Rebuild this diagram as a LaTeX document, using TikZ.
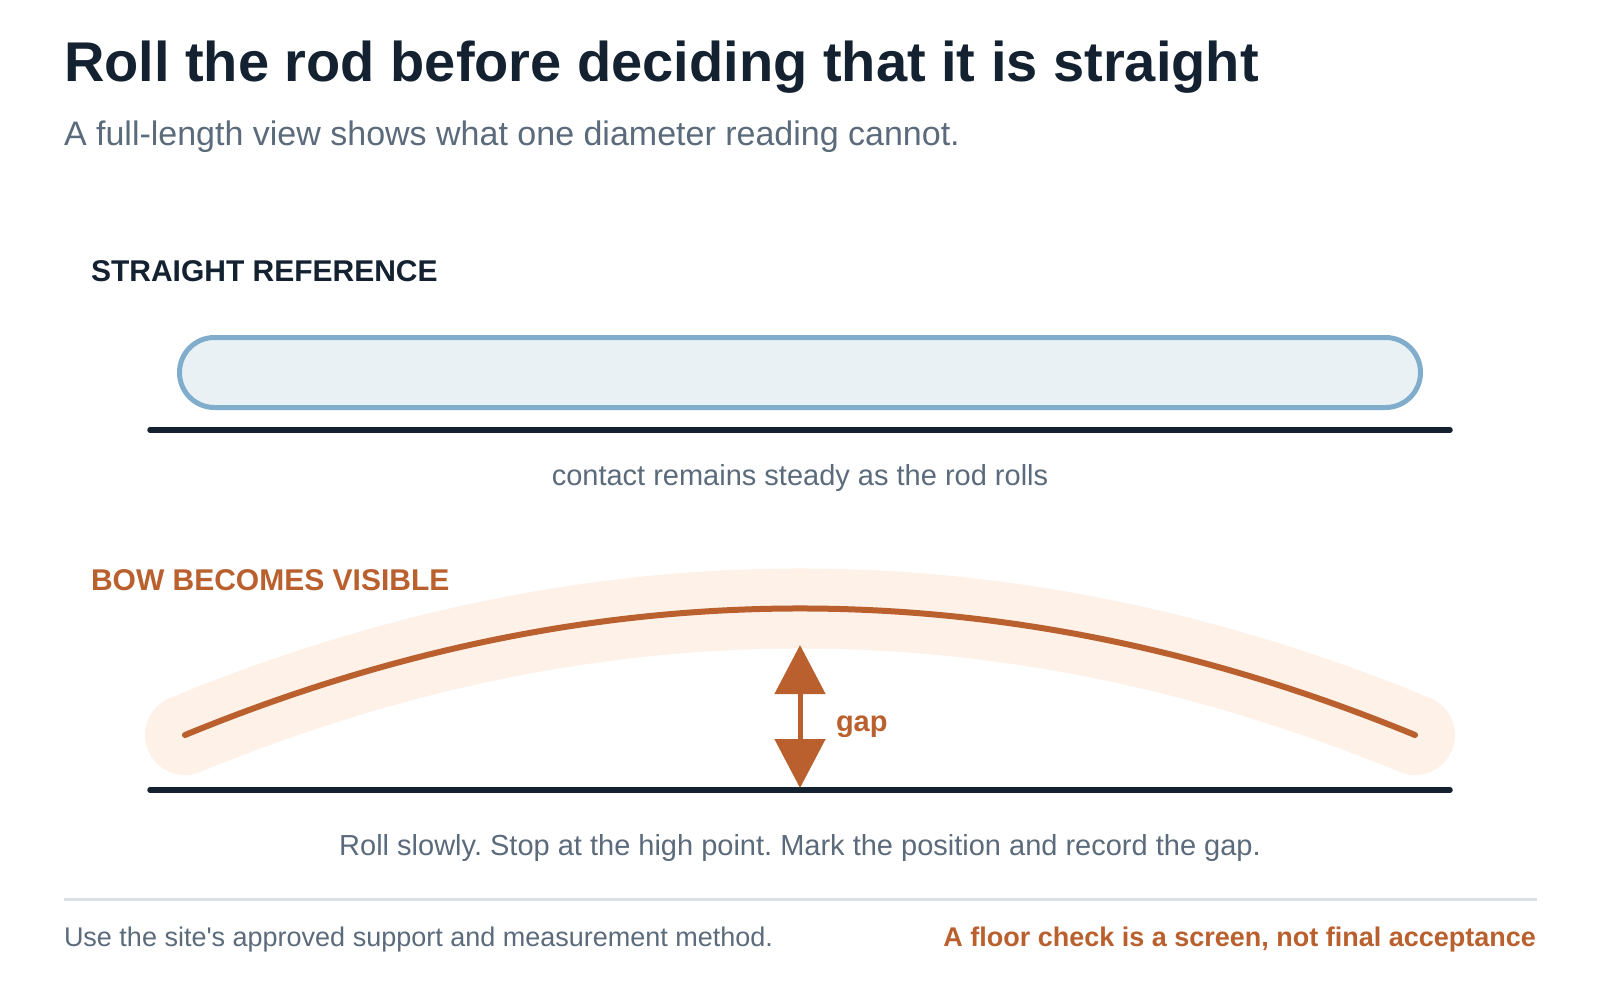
\documentclass[tikz,border=0pt]{standalone}
\usepackage{fontspec}
\setmainfont{Liberation Sans}[Ligatures=TeXOff]
\usetikzlibrary{arrows.meta}
\definecolor{ink}{HTML}{132130}
\definecolor{slate}{HTML}{5B6B7B}
\definecolor{rust}{HTML}{B9602E}
\definecolor{glowc}{HTML}{FEF1E8}
\definecolor{rodfill}{HTML}{EAF1F5}
\definecolor{rodline}{HTML}{7FADCB}
\definecolor{rulec}{HTML}{D8DFE6}
\newcommand\fsz[1]{\fontsize{#1}{#1}\selectfont}
\frenchspacing
\begin{document}
\begin{tikzpicture}[x=1pt,y=-1pt,
  txt/.style={inner sep=0pt, outer sep=0pt},
  floorline/.style={draw=ink, line width=5.5pt, line cap=round}]
\useasboundingbox[fill=white] (0,0) rectangle (1600,1000);

\node[txt, anchor=base west, text=ink, font=\fsz{56}\bfseries] (title) at (64,82) {Roll the rod before deciding that it is straight};
\node[txt, anchor=base west, text=slate, font=\fsz{34}] (subtitle) at (64,146) {A full-length view shows what one diameter reading cannot.};

% straight reference
\node[txt, anchor=base west, text=ink, font=\fsz{30}\bfseries] (lblA) at (91,281) {STRAIGHT REFERENCE};
\node[draw=rodline, fill=rodfill, line width=5pt, rounded corners=34.9pt, minimum width=1241pt, minimum height=70pt, inner sep=0pt] (rod) at (800,372.5) {};
\coordinate (fA1) at (150,430);
\coordinate (fA2) at (1450,430);
\draw[floorline] (fA1) -- (fA2);
\node[txt, anchor=base, text=slate, font=\fsz{29}] (capA) at (800,485) {contact remains steady as the rod rolls};

% bow
\node[txt, anchor=base west, text=rust, font=\fsz{30}\bfseries] (lblB) at (91,590) {BOW BECOMES VISIBLE};
\coordinate (bL) at (185,735);
\coordinate (bR) at (1415,735);
\draw[glowc, line width=80pt, line cap=round] (bL) .. controls (595,566.3) and (1005,566.3) .. (bR);
\draw[rust, line width=6pt, line cap=round] (bL) .. controls (595,566.3) and (1005,566.3) .. (bR);
\coordinate (fB1) at (150,790);
\coordinate (fB2) at (1450,790);
\draw[floorline] (fB1) -- (fB2);
\coordinate (gTop) at (800,645);
\coordinate (gBot) at (800,788);
\draw[rust, line width=5pt, {Triangle[length=49pt,width=50pt]}-{Triangle[length=49pt,width=50pt]}] (gTop) -- (gBot);
\node[txt, anchor=base west, text=rust, font=\fsz{29}\bfseries] (gaplbl) at (836,731) {gap};
\node[txt, anchor=base, text=slate, font=\fsz{29}] (capB) at (800,855) {Roll slowly. Stop at the high point. Mark the position and record the gap.};

% footer
\coordinate (r1) at (64,899);
\coordinate (r2) at (1537,899);
\draw[rulec, line width=3pt] (r1) -- (r2);
\node[txt, anchor=base west, text=slate, font=\fsz{27}] (footL) at (64,946) {Use the site's approved support and measurement method.};
\node[txt, anchor=base east, text=rust, font=\fsz{27}\bfseries] (footR) at (1536,946) {A floor check is a screen, not final acceptance};
\end{tikzpicture}
\end{document}
